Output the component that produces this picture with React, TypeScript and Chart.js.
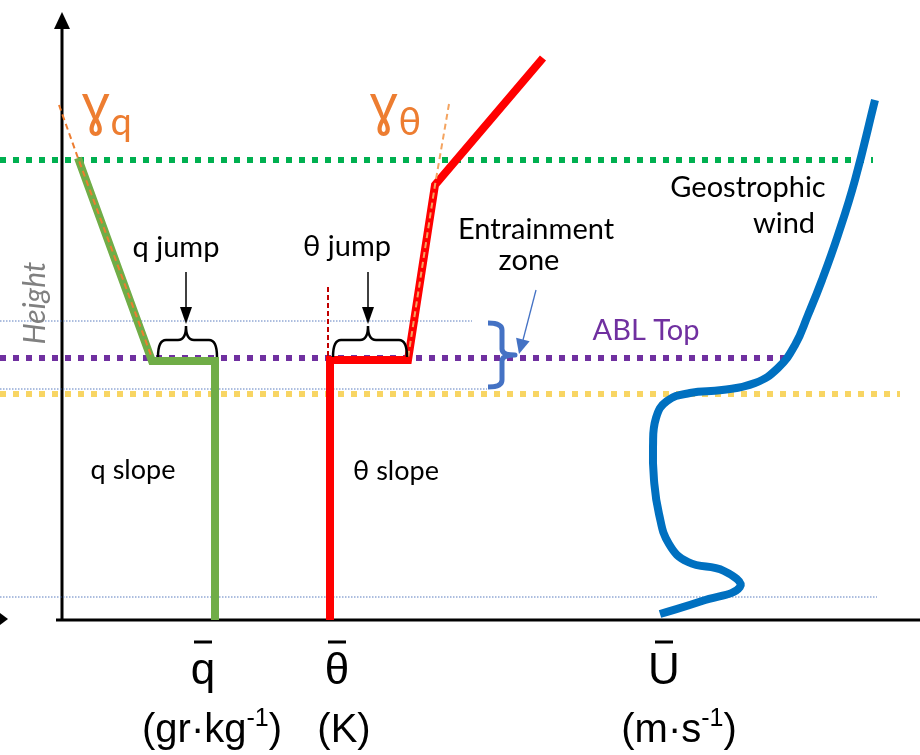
import React, { useEffect, useRef } from 'react';
import { Chart, registerables } from 'chart.js';

Chart.register(...registerables);

// ---- Data (arbitrary schematic units: x = profile magnitude, y = height above ground) ----
const qProfile = [
  { x: 16, y: 462 }, { x: 90, y: 259 }, { x: 153, y: 259 }, { x: 153, y: 0 },
];
const qLapse = [{ x: -3, y: 515 }, { x: 16, y: 462 }, { x: 90, y: 262 }];

const thetaProfile = [
  { x: 268, y: 0 }, { x: 268, y: 260 }, { x: 346, y: 260 }, { x: 373, y: 435 }, { x: 481, y: 562 },
];
const thetaLapse = [{ x: 387, y: 516 }, { x: 373, y: 435 }, { x: 346, y: 262 }];
const thetaMixed = [{ x: 266, y: 333 }, { x: 266, y: 262 }];

const windProfile = [
  { x: 598, y: 6 }, { x: 640, y: 19 }, { x: 678, y: 33 }, { x: 662, y: 49 },
  { x: 626, y: 58 }, { x: 607, y: 76 }, { x: 597, y: 106 }, { x: 592, y: 140 },
  { x: 591, y: 173 }, { x: 594, y: 202 }, { x: 605, y: 219 }, { x: 628, y: 227 },
  { x: 660, y: 230 }, { x: 693, y: 237 }, { x: 716, y: 252 }, { x: 733, y: 275 },
  { x: 746, y: 305 }, { x: 760, y: 340 }, { x: 776, y: 385 }, { x: 793, y: 440 },
  { x: 813, y: 520 },
];

const geostrophicLine = [{ x: -62, y: 460 }, { x: 811, y: 460 }];
const ablTopLine = [{ x: -62, y: 262 }, { x: 725, y: 262 }];
const mixedTopLine = [{ x: -62, y: 226 }, { x: 838, y: 226 }];
const ezTopLine = [{ x: -62, y: 299 }, { x: 410, y: 299 }];
const ezBottomLine = [{ x: -62, y: 231 }, { x: 425, y: 231 }];
const surfaceLine = [{ x: -62, y: 23 }, { x: 815, y: 23 }];

// ---- Annotations (data units) ----
const textLabels = [
  { text: 'q jump', x: 114, y: 363, color: '#000', font: '29px Lato' },
  { text: 'θ jump', x: 285, y: 364, color: '#000', font: '29px Lato' },
  { text: 'Entrainment', x: 474, y: 381, color: '#000', font: '29px Lato' },
  { text: 'zone', x: 467, y: 350, color: '#000', font: '29px Lato' },
  { text: 'ABL Top', x: 584, y: 280, color: '#7030a0', font: '29px Lato' },
  { text: 'Geostrophic', x: 686, y: 423, color: '#000', font: '29px Lato' },
  { text: 'wind', x: 722, y: 387, color: '#000', font: '29px Lato' },
  { text: 'q slope', x: 71, y: 141, color: '#000', font: '27px Lato' },
  { text: 'θ slope', x: 334, y: 140, color: '#000', font: '27px Lato' },
];
const gammaLabels = [
  { sub: 'q', x: 20, y: 497 },
  { sub: 'θ', x: 308, y: 497 },
];
const axisSymbols = [
  { sym: 'q', unit: '(gr·kg', x: 141, unitX: 150 },
  { sym: 'θ', unit: '(K', x: 275, unitX: 282 },
  { sym: 'U', unit: '(m·s', x: 602, unitX: 617 },
];
const braces = [
  { left: 96, right: 155, mid: 124 },
  { left: 271, right: 345, mid: 306 },
];

function App() {
  const ref = useRef<HTMLCanvasElement | null>(null);

  useEffect(() => {
    document.body.style.margin = '0';
    const canvas = ref.current;
    if (!canvas) return;

    const overlay = {
      id: 'overlay',
      beforeDatasetsDraw(chart: any) {
        const ctx = chart.ctx;
        const X = (v: number) => chart.scales.x.getPixelForValue(v);
        const Y = (v: number) => chart.scales.y.getPixelForValue(v);
        ctx.save();
        ctx.strokeStyle = '#000';
        ctx.fillStyle = '#000';
        ctx.lineWidth = 3;
        ctx.beginPath();
        ctx.moveTo(X(0), Y(-1));
        ctx.lineTo(X(0), Y(594));
        ctx.stroke();
        ctx.beginPath();
        ctx.moveTo(X(0), Y(608));
        ctx.lineTo(X(-8), Y(591));
        ctx.lineTo(X(8), Y(591));
        ctx.closePath();
        ctx.fill();
        ctx.beginPath();
        ctx.moveTo(X(-6), Y(0));
        ctx.lineTo(X(858), Y(0));
        ctx.stroke();
        ctx.beginPath();
        ctx.moveTo(X(-54), Y(1));
        ctx.lineTo(X(-62), Y(7));
        ctx.lineTo(X(-62), Y(-5));
        ctx.closePath();
        ctx.fill();
        ctx.restore();
      },
      afterDatasetsDraw(chart: any) {
        const ctx = chart.ctx;
        const X = (v: number) => chart.scales.x.getPixelForValue(v);
        const Y = (v: number) => chart.scales.y.getPixelForValue(v);
        ctx.save();

        braces.forEach((b) => {
          const yb = Y(263), ya = Y(280), yp = Y(294);
          const xl = X(b.left), xr = X(b.right), xm = X(b.mid);
          const r = 8;
          ctx.strokeStyle = '#000';
          ctx.lineWidth = 2.5;
          ctx.beginPath();
          ctx.moveTo(xl, yb);
          ctx.quadraticCurveTo(xl, ya, xl + r, ya);
          ctx.lineTo(xm - r, ya);
          ctx.quadraticCurveTo(xm, ya, xm, yp);
          ctx.quadraticCurveTo(xm, ya, xm + r, ya);
          ctx.lineTo(xr - r, ya);
          ctx.quadraticCurveTo(xr, ya, xr, yb);
          ctx.stroke();
          ctx.lineWidth = 1.5;
          ctx.beginPath();
          ctx.moveTo(xm, Y(348));
          ctx.lineTo(xm, Y(310));
          ctx.stroke();
          ctx.fillStyle = '#000';
          ctx.beginPath();
          ctx.moveTo(xm, Y(296));
          ctx.lineTo(xm - 6, Y(313));
          ctx.lineTo(xm + 6, Y(313));
          ctx.closePath();
          ctx.fill();
        });

        ctx.strokeStyle = '#4472c4';
        ctx.lineWidth = 5;
        ctx.lineJoin = 'round';
        const bx = X(440), hx = X(426), tx = X(453);
        const yt = Y(297), ym = Y(265), ybt = Y(233);
        ctx.beginPath();
        ctx.moveTo(hx, yt);
        ctx.quadraticCurveTo(bx, yt, bx, yt + 7);
        ctx.lineTo(bx, ym - 6);
        ctx.quadraticCurveTo(bx, ym, tx, ym);
        ctx.quadraticCurveTo(bx, ym, bx, ym + 6);
        ctx.lineTo(bx, ybt - 7);
        ctx.quadraticCurveTo(bx, ybt, hx, ybt);
        ctx.stroke();
        ctx.lineWidth = 1.3;
        ctx.beginPath();
        ctx.moveTo(X(474), Y(330));
        ctx.lineTo(X(461), Y(280));
        ctx.stroke();
        {
          const x1 = X(474), y1 = Y(330), x2 = X(457), y2 = Y(266);
          const ang = Math.atan2(y2 - y1, x2 - x1);
          const len = 15, hw = 7;
          ctx.fillStyle = '#4472c4';
          ctx.beginPath();
          ctx.moveTo(x2, y2);
          ctx.lineTo(x2 - len * Math.cos(ang) + hw * Math.sin(ang), y2 - len * Math.sin(ang) - hw * Math.cos(ang));
          ctx.lineTo(x2 - len * Math.cos(ang) - hw * Math.sin(ang), y2 - len * Math.sin(ang) + hw * Math.cos(ang));
          ctx.closePath();
          ctx.fill();
        }

        ctx.textAlign = 'center';
        ctx.textBaseline = 'alphabetic';
        textLabels.forEach((t) => {
          ctx.font = t.font;
          ctx.fillStyle = t.color;
          ctx.fillText(t.text, X(t.x), Y(t.y));
        });

        gammaLabels.forEach((g) => {
          ctx.fillStyle = '#ed7d31';
          ctx.textAlign = 'left';
          ctx.font = '54px "Noto Sans"';
          ctx.fillText('ɣ', X(g.x), Y(g.y));
          const w = ctx.measureText('ɣ').width;
          ctx.font = '38px Lato';
          ctx.fillText(g.sub, X(g.x) + w + 1, Y(g.y) + 12);
        });

        ctx.save();
        ctx.translate(X(-27), Y(317));
        ctx.rotate(-Math.PI / 2);
        ctx.textAlign = 'center';
        ctx.fillStyle = '#808080';
        ctx.font = 'italic 30px Lato';
        ctx.fillText('Height', 0, 10);
        ctx.restore();

        axisSymbols.forEach((s) => {
          ctx.fillStyle = '#000';
          ctx.textAlign = 'center';
          ctx.font = '44px "Liberation Sans"';
          const cx = X(s.x);
          ctx.fillText(s.sym, cx, Y(-64));
          ctx.lineWidth = 3;
          ctx.strokeStyle = '#000';
          ctx.beginPath();
          ctx.moveTo(cx - 9, Y(-22));
          ctx.lineTo(cx + 9, Y(-22));
          ctx.stroke();
          ctx.textAlign = 'left';
          const mainFont = '40px "Liberation Sans"';
          const supFont = '25px "Liberation Sans"';
          const sup = s.unit === '(K' ? '' : '-1';
          ctx.font = mainFont;
          const w1 = ctx.measureText(s.unit).width;
          const w3 = ctx.measureText(')').width;
          ctx.font = supFont;
          const w2 = sup ? ctx.measureText(sup).width : 0;
          const total = w1 + w2 + w3;
          const ux = X(s.unitX) - total / 2;
          const by = Y(-122);
          ctx.font = mainFont;
          ctx.fillText(s.unit, ux, by);
          if (sup) {
            ctx.font = supFont;
            ctx.fillText(sup, ux + w1, by - 16);
          }
          ctx.font = mainFont;
          ctx.fillText(')', ux + w1 + w2, by);
        });

        ctx.restore();
      },
    };

    const dotted = (data: any[], color: string, order: number) => ({
      data, borderColor: color, borderWidth: 6, borderDash: [6, 7], borderCapStyle: 'butt',
      showLine: true, pointRadius: 0, order, tension: 0,
    });
    const thin = (data: any[]) => ({
      data, borderColor: '#5a7dbf', borderWidth: 1, borderDash: [1.5, 1.5],
      showLine: true, pointRadius: 0, order: 20, tension: 0,
    });

    const chart = new Chart(canvas, {
      type: 'scatter',
      data: {
        datasets: [
          thin(ezTopLine),
          thin(ezBottomLine),
          thin(surfaceLine),
          dotted(geostrophicLine, '#00b050', 15),
          dotted(ablTopLine, '#7030a0', 15),
          dotted(mixedTopLine, '#f8d563', 15),
          {
            data: qProfile, borderColor: '#70ad47', borderWidth: 8, borderJoinStyle: 'miter',
            showLine: true, pointRadius: 0, order: 10, tension: 0,
          },
          {
            data: thetaProfile, borderColor: '#ff0000', borderWidth: 8, borderJoinStyle: 'miter',
            showLine: true, pointRadius: 0, order: 10, tension: 0,
          },
          {
            data: qLapse, borderColor: '#ed7d31', borderWidth: 2, borderDash: [6, 4],
            showLine: true, pointRadius: 0, order: 5, tension: 0,
          },
          {
            data: thetaLapse, borderColor: '#f4a460', borderWidth: 2, borderDash: [6, 4],
            showLine: true, pointRadius: 0, order: 5, tension: 0,
          },
          {
            data: thetaMixed, borderColor: '#c00000', borderWidth: 2, borderDash: [5, 3],
            showLine: true, pointRadius: 0, order: 5, tension: 0,
          },
          {
            data: windProfile, borderColor: '#0070c0', borderWidth: 8, borderCapStyle: 'butt',
            showLine: true, pointRadius: 0, order: 8, tension: 0.45,
          },
        ] as any,
      },
      options: {
        animation: false,
        responsive: false,
        maintainAspectRatio: false,
        layout: { padding: 0 },
        events: [],
        scales: {
          x: { type: 'linear', min: -62, max: 858, display: false },
          y: { type: 'linear', min: -135, max: 620, display: false },
        },
        plugins: {
          legend: { display: false },
          tooltip: { enabled: false },
        },
      } as any,
      plugins: [overlay],
    });

    return () => chart.destroy();
  }, []);

  return (
    <div style={{ position: 'absolute', left: 0, top: 0, width: 920, height: 755, background: '#fff' }}>
      <canvas ref={ref} width={920} height={755} style={{ width: 920, height: 755 }} />
    </div>
  );
}

export default App;
